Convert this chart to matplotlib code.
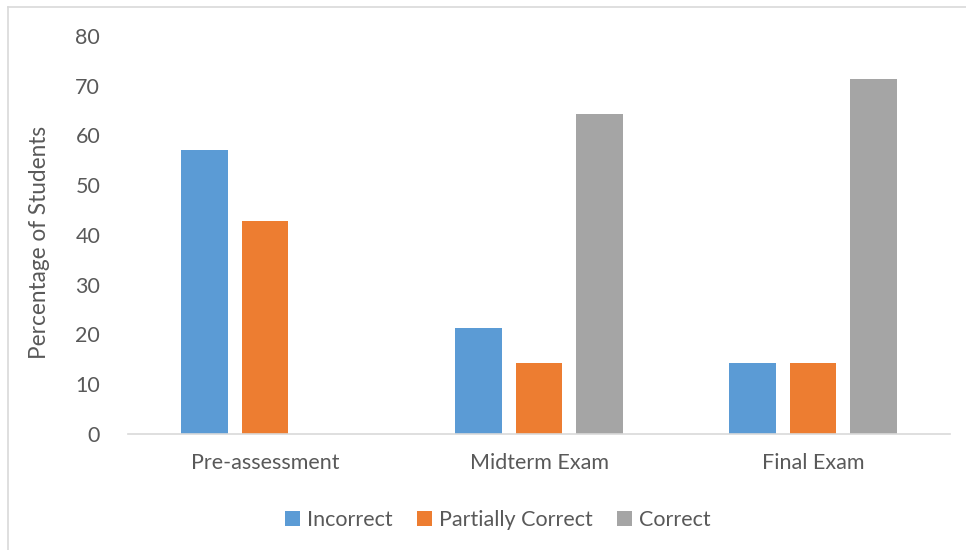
import numpy as np
import matplotlib
matplotlib.use("Agg")
import matplotlib.pyplot as plt
from matplotlib.lines import Line2D

# Assessment results by stage (% of students)
stages = ["Pre-assessment", "Midterm Exam", "Final Exam"]
incorrect = [57.1, 21.4, 14.3]
partially_correct = [42.9, 14.3, 14.3]
correct = [0.0, 64.3, 71.4]

series = [
    ("Incorrect", incorrect, "#5B9BD5"),
    ("Partially Correct", partially_correct, "#ED7D31"),
    ("Correct", correct, "#A5A5A5"),
]

TEXT = "#595959"
plt.rcParams["font.family"] = ["Lato", "DejaVu Sans"]

fig = plt.figure(figsize=(9.66, 5.5), dpi=100, facecolor="white")
ax = fig.add_axes([128 / 966, 1 - 434 / 550, (950 - 128) / 966, (434 - 36) / 550])

x = np.arange(len(stages))
width = 0.171
step = 0.222
for i, (name, vals, color) in enumerate(series):
    ax.bar(x + (i - 1) * step, vals, width=width, color=color, label=name, zorder=2)

ax.set_xlim(-0.5, len(stages) - 0.5)
ax.set_ylim(0, 80)
ax.set_yticks(range(0, 81, 10))
ax.set_xticks(x)
ax.set_xticklabels(stages)
ax.tick_params(axis="both", length=0, colors=TEXT, labelsize=15.5)
ax.tick_params(axis="y", pad=20)
ax.tick_params(axis="x", pad=14)
ax.set_ylabel("Percentage of Students", color=TEXT, fontsize=16.3)
ax.yaxis.set_label_coords(-0.095, 0.482)

for side in ("top", "right", "left"):
    ax.spines[side].set_visible(False)
ax.spines["bottom"].set_color("#D9D9D9")
ax.spines["bottom"].set_linewidth(1.2)

leg = ax.legend(loc="upper center", bbox_to_anchor=(0.45, -0.142), ncol=3, frameon=False,
                fontsize=15.5, handlelength=0.7, handleheight=0.7, handletextpad=0.35,
                columnspacing=1.1)
for t in leg.get_texts():
    t.set_color(TEXT)

# chart frame edges
fig.add_artist(Line2D([8 / 966, 1], [1 - 7 / 550, 1 - 7 / 550], color="#D9D9D9", lw=1.2))
fig.add_artist(Line2D([8 / 966, 8 / 966], [0, 1 - 7 / 550], color="#D9D9D9", lw=1.2))

fig.savefig("out.png", dpi=100, facecolor="white")
